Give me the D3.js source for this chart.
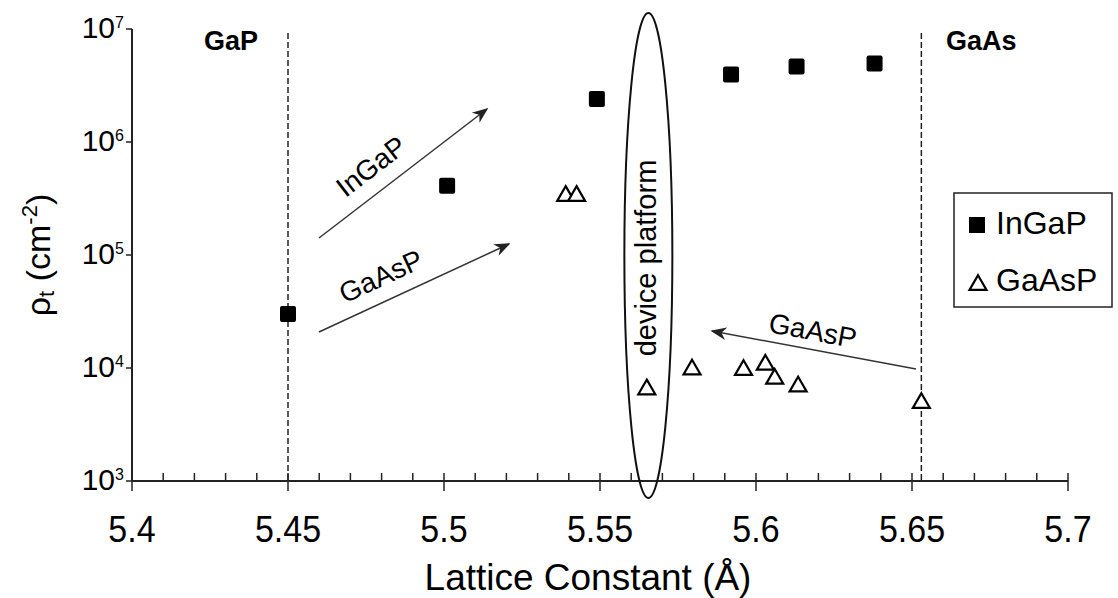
<!DOCTYPE html>
<html><head><meta charset="utf-8">
<script src="https://cdn.jsdelivr.net/npm/d3@7"></script>
<style>
body{margin:0;background:#fff;}
text{font-family:"Liberation Sans",Arial,sans-serif;fill:#000;}
</style></head>
<body><svg id="c" width="1118" height="598"></svg>
<script>
// ---- data ----
const ingapX = [5.450, 5.501, 5.549, 5.592, 5.613, 5.638];
const ingapY = [3.0e4, 4.1e5, 2.4e6, 3.95e6, 4.65e6, 4.95e6];
const gaaspX = [5.539, 5.5425, 5.565, 5.5795, 5.596, 5.603, 5.606, 5.6135, 5.653];
const gaaspY = [3.4e5, 3.4e5, 6.6e3, 9.9e3, 9.8e3, 1.09e4, 8.2e3, 7.0e3, 5.0e3];
const xTicks = [5.4, 5.45, 5.5, 5.55, 5.6, 5.65, 5.7];
const xTickLabels = ["5.4", "5.45", "5.5", "5.55", "5.6", "5.65", "5.7"];
const yTicks = [1e3, 1e4, 1e5, 1e6, 1e7];
const yTickExp = ["3", "4", "5", "6", "7"];
const refLines = [5.45, 5.653];
const refLabels = ["GaP", "GaAs"];
const seriesNames = ["InGaP", "GaAsP"];

// ---- layout ----
const svg = d3.select("#c");
const x = d3.scaleLinear().domain([5.4, 5.7]).range([132, 1068]);
const y = d3.scaleLog().domain([1e3, 1e7]).range([481, 29]);
const axisCol = "#222";

// x axis
const gx = svg.append("g").attr("transform", "translate(0,481)");
gx.append("line").attr("x1", x(5.4)).attr("x2", x(5.7)).attr("stroke", axisCol).attr("stroke-width", 2);
const minor = d3.range(0, 31).map(i => 5.4 + i * 0.01).filter((v, i) => i % 5 !== 0);
gx.selectAll(".mn").data(minor).join("line")
  .attr("x1", d => x(d)).attr("x2", d => x(d)).attr("y1", -8).attr("y2", 0)
  .attr("stroke", axisCol).attr("stroke-width", 1.5);
gx.selectAll(".mj").data(xTicks).join("line")
  .attr("x1", d => x(d)).attr("x2", d => x(d)).attr("y1", (d, i) => i === 0 ? 0 : -8).attr("y2", 10)
  .attr("stroke", axisCol).attr("stroke-width", 1.5);
gx.selectAll(".tl").data(xTicks).join("text")
  .attr("transform", d => `translate(${x(d)},61) scale(1,1.08)`).attr("text-anchor", "middle")
  .attr("font-size", 34).text((d, i) => xTickLabels[i]);
svg.append("text").attr("transform", "translate(588,590) scale(1,1.02)").attr("text-anchor", "middle")
  .attr("font-size", 37).text("Lattice Constant (Å)");

// y axis
svg.append("line").attr("x1", 132).attr("x2", 132).attr("y1", y(1e7)).attr("y2", y(1e3))
  .attr("stroke", axisCol).attr("stroke-width", 2);
svg.selectAll(".yt").data(yTicks).join("line")
  .attr("x1", 126).attr("x2", 132).attr("y1", d => y(d)).attr("y2", d => y(d))
  .attr("stroke", axisCol).attr("stroke-width", 1.5);
svg.selectAll(".yl").data(yTicks).join("text")
  .attr("x", 115).attr("y", d => y(d) + 9).attr("text-anchor", "end")
  .attr("font-size", 30).text("10");
svg.selectAll(".ye").data(yTicks).join("text")
  .attr("x", 115).attr("y", d => y(d) - 1)
  .attr("font-size", 16).text((d, i) => yTickExp[i]);
const yt = svg.append("text").attr("transform", "translate(50,255) rotate(-90)")
  .attr("text-anchor", "middle").attr("font-size", 34);
yt.append("tspan").text("ρ");
yt.append("tspan").attr("font-size", 22).attr("dy", 4).text("t");
yt.append("tspan").attr("dy", -4).text(" (cm");
yt.append("tspan").attr("font-size", 22).attr("dy", -13).text("-2");
yt.append("tspan").attr("dy", 13).text(")");

// reference dashed lines
svg.selectAll(".rl").data(refLines).join("line")
  .attr("x1", d => x(d)).attr("x2", d => x(d)).attr("y1", 33).attr("y2", 481)
  .attr("stroke", "#222").attr("stroke-width", 1.5).attr("stroke-dasharray", "6,3");
svg.append("text").attr("x", 204).attr("y", 50).attr("font-size", 27).attr("font-weight", "bold").text(refLabels[0]);
svg.append("text").attr("x", 946).attr("y", 50).attr("font-size", 27).attr("font-weight", "bold").text(refLabels[1]);

// device platform ellipse
const ecx = x(5.5655), etop = 13, ebot = 498;
svg.append("ellipse").attr("cx", ecx).attr("cy", (etop + ebot) / 2).attr("rx", 24).attr("ry", (ebot - etop) / 2)
  .attr("fill", "none").attr("stroke", "#111").attr("stroke-width", 2);
svg.append("text").attr("transform", `translate(${ecx + 8},258) rotate(-90)`).attr("text-anchor", "middle")
  .attr("font-size", 29).text("device platform");

// arrows
const defs = svg.append("defs");
defs.append("marker").attr("id", "ah").attr("viewBox", "0 0 10 10").attr("refX", 9).attr("refY", 5)
  .attr("markerWidth", 16).attr("markerHeight", 16).attr("markerUnits", "userSpaceOnUse").attr("orient", "auto")
  .append("path").attr("d", "M0,1 L10,5 L0,9 L3,5 Z").attr("fill", "#222");
const arrows = [
  {x1: 319, y1: 238, x2: 487, y2: 109, label: "InGaP", lx: 377, ly: 174},
  {x1: 319, y1: 332, x2: 509, y2: 244, label: "GaAsP", lx: 385, ly: 285},
  {x1: 916, y1: 369, x2: 712, y2: 331, label: "GaAsP", lx: 811, ly: 340}
];
arrows.forEach(a => {
  svg.append("line").attr("x1", a.x1).attr("y1", a.y1).attr("x2", a.x2).attr("y2", a.y2)
    .attr("stroke", "#333").attr("stroke-width", 1.5).attr("marker-end", "url(#ah)");
  let ang = Math.atan2(a.y2 - a.y1, a.x2 - a.x1) * 180 / Math.PI;
  if (ang > 90 || ang < -90) ang += 180;
  svg.append("text").attr("transform", `translate(${a.lx},${a.ly}) rotate(${ang})`)
    .attr("text-anchor", "middle").attr("font-size", 28).text(a.label);
});

// data markers
const sq = 16;
svg.selectAll(".sq").data(ingapX).join("rect")
  .attr("x", d => x(d) - sq / 2).attr("y", (d, i) => y(ingapY[i]) - sq / 2)
  .attr("width", sq).attr("height", sq).attr("rx", 2).attr("fill", "#000");
const tri = d3.symbol().type(d3.symbolTriangle).size(125);
svg.selectAll(".tr").data(gaaspX).join("path")
  .attr("d", tri).attr("transform", (d, i) => `translate(${x(d)},${y(gaaspY[i]) + 1})`)
  .attr("fill", "#fff").attr("stroke", "#000").attr("stroke-width", 2.2);

// legend
svg.append("rect").attr("x", 954).attr("y", 193).attr("width", 158).attr("height", 114)
  .attr("fill", "#fff").attr("stroke", "#222").attr("stroke-width", 1.5);
svg.append("rect").attr("x", 969).attr("y", 217).attr("width", 16).attr("height", 16).attr("fill", "#000");
svg.append("path").attr("d", tri).attr("transform", "translate(978,285)")
  .attr("fill", "#fff").attr("stroke", "#000").attr("stroke-width", 2.2);
svg.append("text").attr("x", 996).attr("y", 234).attr("font-size", 32).text(seriesNames[0]);
svg.append("text").attr("x", 996).attr("y", 291).attr("font-size", 32).text(seriesNames[1]);
</script></body></html>
